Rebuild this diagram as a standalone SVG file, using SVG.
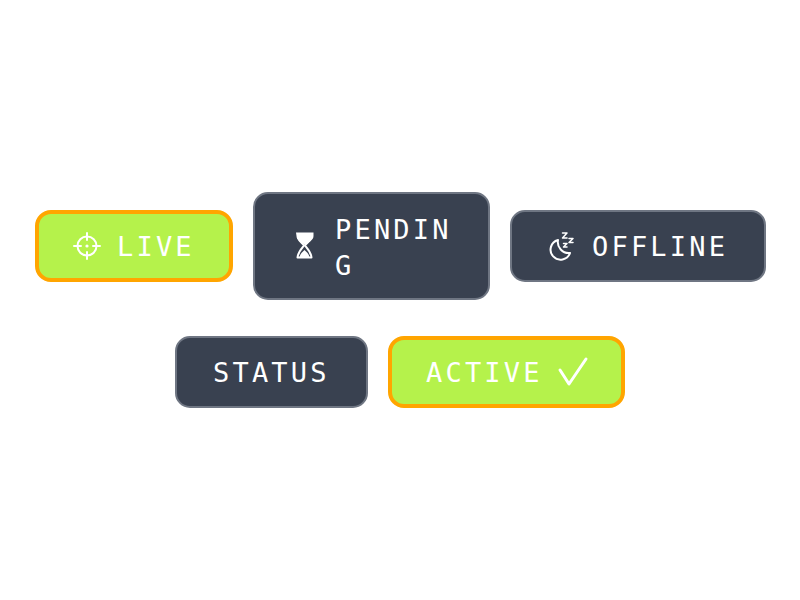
<svg xmlns="http://www.w3.org/2000/svg" width="800" height="600" viewBox="0 0 800 600">
<style>
.live{fill:#b5f24b;stroke:#ffa500;stroke-width:4}
.dark{fill:#394150;stroke:#6f7683;stroke-width:2}
text{font-family:"DejaVu Sans Mono","Liberation Mono",monospace;font-size:27px;letter-spacing:3.2px;fill:#fff}
.ic{fill:none;stroke:#fff;stroke-width:2;stroke-linecap:round;stroke-linejoin:round}
.thin{stroke-width:1.5}
.check{stroke-width:3}
</style>
<rect width="800" height="600" fill="#fff"/>
<g id="live"><rect class="live" x="37" y="212" width="194" height="68" rx="14"/>
<g class="ic"><circle cx="87" cy="246" r="9.500"/><path d="M87 233V240M87 252V259M74 246H81M93 246H100"/></g><circle cx="87" cy="246" r="1.600" fill="#fff"/>
<text x="117" y="256">LIVE</text></g>
<g id="pending"><rect class="dark" x="254" y="193" width="235" height="106" rx="14"/>
<path fill="#fff" d="M296 232.500H313.500V236C313.500 240 309 242 305 245C301 242 296.500 240 296.500 236Z"/>
<path class="ic" d="M298 238C299 241 302 243 304 245.500C302 248 298 252 297.500 257.500H311.500C311 252 307 248 305 245.500C307 243 310 241 311 238"/>
<path fill="#fff" d="M304.500 250C302 252.500 300 254 299.500 257.500H309.500C309 254 307 252.500 304.500 250Z"/>
<text x="335" y="239">PENDIN</text><text x="335" y="275">G</text></g>
<g id="offline"><rect class="dark" x="511" y="211" width="254" height="70" rx="14"/>
<path class="ic" d="M558 240A10 10 0 1 0 570 253A11 11 0 0 1 558 240Z"/>
<path class="ic thin" d="M562.500 233H567L562.500 238H567M569 238.500H573L569 242.500H573M563.500 243.500H567L563.500 247H567"/>
<text x="592" y="256">OFFLINE</text></g>
<g id="status"><rect class="dark" x="176" y="337" width="191" height="70" rx="14"/>
<text x="213" y="382">STATUS</text></g>
<g id="active"><rect class="live" x="390" y="338" width="233" height="68" rx="14"/>
<text x="426" y="382">ACTIVE</text>
<path class="ic check" d="M560 370L569 384L586 359"/></g>
</svg>
